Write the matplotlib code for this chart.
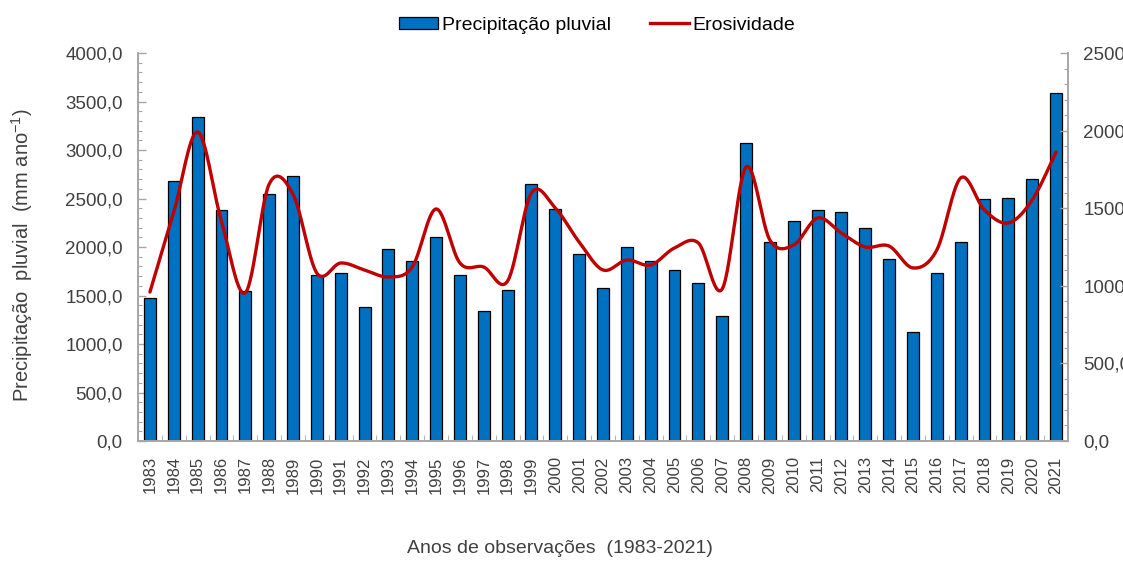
import matplotlib
matplotlib.use("Agg")
import matplotlib.pyplot as plt
from matplotlib.ticker import MultipleLocator, FuncFormatter
from matplotlib.lines import Line2D
from matplotlib.patches import Patch
import numpy as np

plt.rcParams['font.family'] = ['Liberation Sans', 'DejaVu Sans']
plt.rcParams['mathtext.fontset'] = 'custom'
plt.rcParams['mathtext.rm'] = 'Liberation Sans'

years = [str(y) for y in range(1983, 2022)]

precipitacao = [1470, 2680, 3340, 2380, 1545, 2550, 2735, 1711, 1732, 1381,
                1979, 1856, 2108, 1711, 1340, 1557, 2649, 2392, 1928, 1577,
                2000, 1856, 1763, 1629, 1285, 3072, 2052, 2268, 2381, 2361,
                2196, 1876, 1124, 1732, 2052, 2495, 2505, 2701, 3590]

erosividade = [960, 1475, 1991, 1415, 955, 1655, 1590, 1082, 1147, 1102,
               1057, 1121, 1495, 1147, 1121, 1031, 1598, 1501, 1282, 1102,
               1166, 1134, 1244, 1276, 980, 1765, 1295, 1263, 1437, 1340,
               1250, 1256, 1115, 1231, 1695, 1488, 1405, 1553, 1862]

bar_color = '#0070C0'
line_color = '#C00000'
axis_color = '#A6A6A6'
text_color = '#404040'


def smooth_curve(xs, ys, n=30):
    # Excel-like smoothed line (Catmull-Rom Bezier segments)
    xs = np.asarray(xs, float)
    ys = np.asarray(ys, float)
    px = np.concatenate([[xs[0]], xs, [xs[-1]]])
    py = np.concatenate([[ys[0]], ys, [ys[-1]]])
    out_x, out_y = [], []
    t = np.linspace(0, 1, n)
    for i in range(1, len(px) - 2):
        p0 = np.array([px[i], py[i]])
        p3 = np.array([px[i + 1], py[i + 1]])
        c1 = p0 + (np.array([px[i + 1], py[i + 1]]) - np.array([px[i - 1], py[i - 1]])) / 6
        c2 = p3 - (np.array([px[i + 2], py[i + 2]]) - np.array([px[i], py[i]])) / 6
        b = (((1 - t) ** 3)[:, None] * p0 + (3 * (1 - t) ** 2 * t)[:, None] * c1
             + (3 * (1 - t) * t ** 2)[:, None] * c2 + (t ** 3)[:, None] * p3)
        out_x.extend(b[:, 0])
        out_y.extend(b[:, 1])
    return np.array(out_x), np.array(out_y)


fig = plt.figure(figsize=(11.23, 5.61), dpi=100)
ax = fig.add_axes([0.1229, 0.2139, 0.8281, 0.6916])
ax2 = ax.twinx()

x = np.arange(len(years))
ax.bar(x, precipitacao, width=0.5, color=bar_color, edgecolor='black', linewidth=0.9, zorder=2)

sx, sy = smooth_curve(x, erosividade)
ax2.plot(sx, sy, color=line_color, linewidth=2.4, solid_capstyle='round', zorder=3)

ax.set_xlim(-0.5, len(years) - 0.5)
ax.set_ylim(0, 4000)
ax2.set_ylim(0, 2500)

fmt = FuncFormatter(lambda v, p: f'{v:.1f}'.replace('.', ','))
ax.yaxis.set_major_locator(MultipleLocator(500))
ax.yaxis.set_minor_locator(MultipleLocator(100))
ax.yaxis.set_major_formatter(fmt)
ax2.yaxis.set_major_locator(MultipleLocator(500))
ax2.yaxis.set_minor_locator(MultipleLocator(100))
ax2.yaxis.set_major_formatter(fmt)

ax.set_xticks(x)
ax.set_xticklabels(years, rotation=90)
ax.set_xticks(np.arange(len(years) + 1) - 0.5, minor=True)

ax.tick_params(axis='x', which='major', length=0, pad=11, labelsize=12, colors=text_color)
ax.tick_params(axis='x', which='minor', direction='in', length=4, color=axis_color)
for a in (ax, ax2):
    a.tick_params(axis='y', which='major', direction='in', length=6, width=1,
                  color=axis_color, labelsize=13.5, labelcolor=text_color, pad=11)
    a.tick_params(axis='y', which='minor', direction='in', length=3, width=0.8,
                  color=axis_color)

for a in (ax, ax2):
    a.spines['top'].set_visible(False)
    for s in ('left', 'right', 'bottom'):
        a.spines[s].set_color(axis_color)
        a.spines[s].set_linewidth(1.2)
    a.patch.set_visible(False)

fig.text(0.02, 0.545, 'Precipitação  pluvial  (mm ano$^{-1}$)', rotation=90,
         ha='center', va='center', fontsize=14.5, color=text_color)
fig.text(0.499, 0.023, 'Anos de observações  (1983-2021)', ha='center', va='center',
         fontsize=14, color=text_color)

handles = [Patch(facecolor=bar_color, edgecolor='black', linewidth=0.9),
           Line2D([0], [0], color=line_color, linewidth=2.4)]
fig.legend(handles, ['Precipitação pluvial', 'Erosividade'], loc='center',
           bbox_to_anchor=(0.532, 0.955), ncol=2, frameon=False, fontsize=14,
           handlelength=2.0, handleheight=0.6, handletextpad=0.2, columnspacing=2.0,
           labelcolor='black')

fig.savefig('out.png', dpi=100)
